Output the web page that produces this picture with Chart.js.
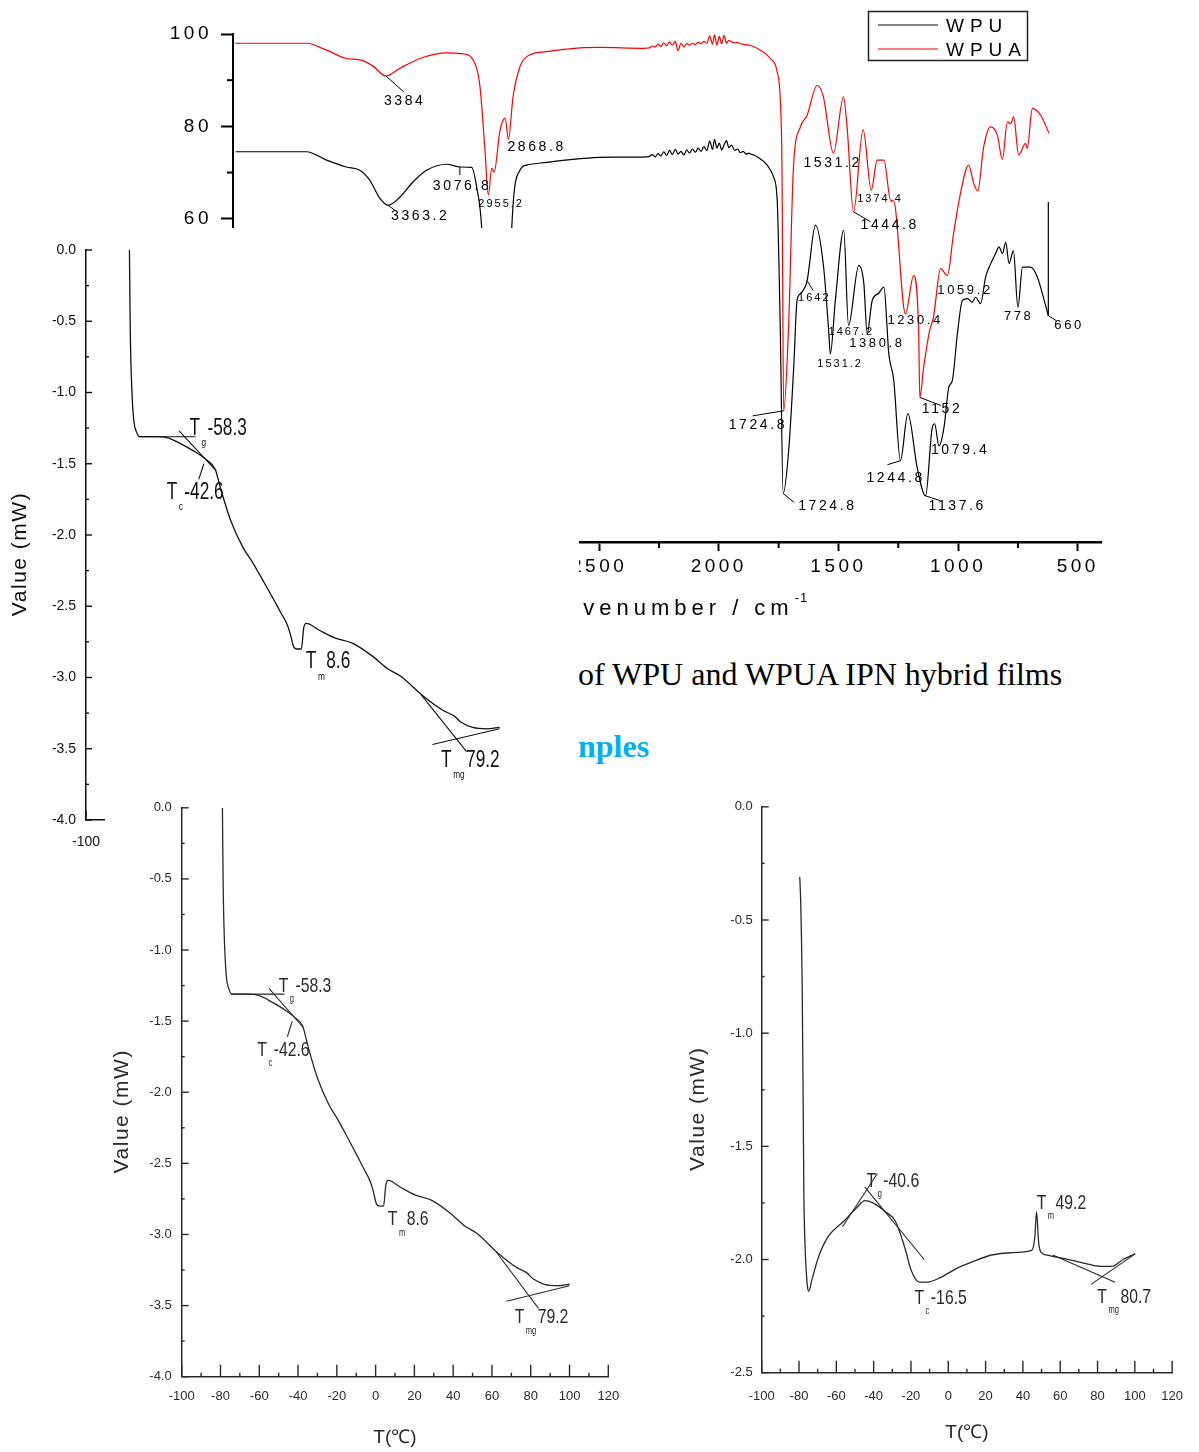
<!DOCTYPE html>
<html>
<head>
<meta charset="utf-8">
<script src="https://cdn.jsdelivr.net/npm/chart.js@4.4.1/dist/chart.umd.min.js"></script>
<style>
  html, body { margin: 0; padding: 0; background: #fff; }
  body { width: 1199px; height: 1452px; position: relative; overflow: hidden; }
  .box { position: absolute; background: #fff; }
  .box canvas { display: block; }
  .soft { filter: blur(0.35px); }
  #line1 { position: absolute; left: 578px; top: 658px; font: 32px/1 "Liberation Serif", "Times New Roman", serif; color: #000; white-space: nowrap; }
  #line2 { position: absolute; left: 578px; top: 730px; font: bold 32px/1 "Liberation Serif", "Times New Roman", serif; color: #00b0f0; white-space: nowrap; }
</style>
</head>
<body>
<div id="line1">of WPU and WPUA IPN hybrid films</div>
<div id="line2">nples</div>

<div class="box" style="left:150px;top:0;width:970px;height:630px;z-index:1"><canvas id="ftir" width="970" height="630"></canvas></div>
<div class="box" style="left:0;top:228px;width:579px;height:622px;z-index:2"><canvas id="dscA" width="579" height="622"></canvas></div>
<div class="box" style="left:105px;top:790px;width:575px;height:662px;z-index:3"><canvas id="dscB" class="soft" width="575" height="662"></canvas></div>
<div class="box" style="left:680px;top:790px;width:519px;height:662px;z-index:3"><canvas id="dscC" class="soft" width="519" height="662"></canvas></div>

<script>
// ---- FTIR spectra: wavenumber (cm-1) and transmittance (%) ----
const ftirWaveTicks = [4000, 3500, 3000, 2500, 2000, 1500, 1000, 500];

const wpuWave = [4019, 3723, 3639, 3556, 3500, 3458, 3416, 3382, 3332, 3277, 3221, 3137, 3082, 3033, 3012, 2991,
  2975, 2958, 2935, 2905, 2885, 2870, 2865, 2831, 2803, 2719, 2579, 2496, 2300,
  2290, 2278, 2266, 2254, 2242, 2230, 2218, 2206, 2194, 2182, 2170, 2158, 2146, 2134, 2122, 2110, 2098, 2086, 2074,
  2062, 2050, 2038, 2026, 2018, 2008, 1998, 1988, 1978, 1968, 1958, 1946, 1934, 1922, 1910, 1898, 1886, 1874, 1862,
  1850, 1840, 1798, 1771, 1756, 1743, 1731, 1708, 1687, 1673, 1659, 1631, 1596, 1562, 1541, 1534, 1513, 1478, 1458,
  1415, 1394, 1380, 1359, 1333, 1310, 1296, 1291, 1269, 1241, 1210, 1171, 1136, 1108, 1098, 1080, 1059, 1039, 1024,
  1003, 982, 961, 941, 927, 906, 885, 867, 843, 829, 815, 801, 787, 769, 750, 731, 711, 697, 669, 648, 623];
const wpuTrans = [74.5, 74.5, 72.7, 71.2, 70.5, 68.3, 64.4, 62.9, 64.7, 68.0, 70.5, 71.8, 71.2, 71.1, 66.9, 58.2,
  38, 25, 36, 44, 40, 48, 58.2, 70.5, 71.6, 72.2, 73.0, 73.3, 73.4,
  73.5, 73.9, 73.4, 74.1, 73.6, 74.5, 73.7, 74.8, 73.9, 75.0, 74.0, 74.6, 73.8, 74.9, 74.2, 75.1, 74.4, 75.3, 74.6,
  75.6, 74.8, 76.8, 75.0, 77.2, 75.3, 76.4, 74.9, 76.0, 76.9, 75.4, 75.9, 74.8, 75.1, 74.3, 74.6, 74.0, 74.2, 73.9,
  73.7, 73.4, 71.6, 69.0, 64, 35.8, 0.5, 9.8, 27.8, 42.3, 43.8, 46.6, 58.6, 49.5, 35.8, 30.7, 42.3, 57.5, 36.9,
  49.9, 46, 35.1, 42.3, 43.8, 45.2, 35.8, 31.5, 25.0, 7.6, 17.8, 6.1, 0.0, 14.8, 15.6, 10.8, 14.8, 23.5, 25.0,
  35.1, 42.3, 42.7, 41.9, 43.0, 41.6, 47.4, 49.9, 52.5, 53.9, 52.5, 54.9, 50.3, 53.1, 40.8, 49.5, 49.5, 49.5, 47.4, 43.8, 39.0];
// closing vertical stroke of the WPU trace at 623 cm-1
const wpuEndWave = [623, 623];
const wpuEndTrans = [39.0, 63.6];

const wpuaWave = [4023, 3723, 3639, 3556, 3500, 3446, 3391, 3332, 3236, 3137, 3069, 3027, 2998, 2977, 2963, 2949,
  2939, 2914, 2893, 2879, 2860, 2831, 2803, 2719, 2579, 2496, 2316,
  2290, 2278, 2266, 2254, 2242, 2230, 2218, 2206, 2194, 2182, 2170, 2158, 2146, 2134, 2122, 2110, 2098, 2086, 2074,
  2062, 2050, 2038, 2026, 2018, 2008, 1998, 1988, 1978, 1968, 1958, 1946, 1934, 1922, 1910, 1890, 1868,
  1826, 1785, 1756, 1743, 1736, 1729,
  1709, 1688, 1659, 1631, 1589, 1563, 1521, 1479, 1464, 1437, 1397, 1363, 1338, 1310, 1282, 1270, 1220, 1186, 1165,
  1160, 1144, 1119, 1103, 1073, 1045, 1019, 990, 956, 935, 918, 893, 864, 836, 815, 794, 780, 768, 747, 718, 711,
  690, 655, 620];
const wpuaTrans = [98.0, 98.0, 96.5, 94.7, 94.4, 93.1, 90.9, 92.6, 94.9, 95.9, 95.7, 94.4, 88.6, 74.8, 65.1, 70.9,
  70.1, 79.2, 81.8, 77.2, 86.3, 92.9, 95.1, 96.2, 97.0, 97.1, 96.9,
  97.0, 97.4, 97.2, 97.8, 97.3, 98.1, 97.5, 98.3, 97.6, 98.4, 96.4, 98.0, 97.2, 97.9, 97.6, 98.0, 97.7, 98.2, 97.9,
  98.4, 98.0, 99.6, 97.8, 99.8, 97.6, 99.5, 97.9, 99.7, 98.0, 98.6, 98.3, 98.1, 98.2, 97.9, 97.7, 97.5,
  96.5, 94.7, 91.8, 85.7, 71.2, 18.4,
  35.8, 71.2, 79.9, 82.4, 88.9, 86.4, 74.2, 86.4, 79.9, 61.5, 79.3, 66.2, 72.7, 72.7, 64, 64, 39.4, 47.7, 35.8,
  21.3, 27.8, 35.8, 38.7, 49.2, 47.7, 56.8, 65.5, 71.6, 67.7, 66, 75.6, 79.9, 78.1, 72.8, 81, 80.6, 82.1, 73.8, 76.3, 75.2,
  83.9, 82.4, 78.5];

// peak labels: text, wavenumber, transmittance of the marked point
const ftirPeakText = ['3384', '2868.8', '3076.8', '3363.2', '2955.2', '1531.2', '1374.4', '1444.8', '1642', '1059.2',
  '1467.2', '1230.4', '778', '660', '1380.8', '1531.2', '1724.8', '1152', '1079.4', '1244.8', '1724.8', '1137.6'];
const ftirPeakWave = [3391, 2879, 3082, 3382, 2963, 1521, 1363, 1437, 1631, 1045, 1458, 1220, 750, 623, 1380, 1534,
  1729, 1160, 1080, 1241, 1731, 1136];
const ftirPeakTrans = [90.9, 77.2, 71.2, 62.9, 65.1, 74.2, 66.2, 61.5, 46.6, 47.7, 36.9, 39.4, 40.8, 39.0, 35.1, 30.7,
  18.4, 21.3, 10.8, 7.6, 0.5, 0.0];
// label offset (dx, dy), leader end (lx, ly), font size — px
const ftirPeakStyle = [[-2, 29, 18, 16, 14], [-1, 12, 0, 0, 14], [-27, 23, 0, 8, 14], [3, 15, 7, 5, 14],
  [-10, 12, 0, 0, 11], [-30, 14, 0, 0, 14], [-14, 12, 0, 0, 11], [7, 17, 17, 10, 14], [-9, 20, 6, 10, 11],
  [-10, 18, 0, 0, 13], [-20, 10, 0, 0, 11], [-18, 10, 0, 0, 13], [-14, 12.5, 0, 0, 13], [6, 13, 8, 5, 13],
  [-18, 13.5, 0, 0, 13], [-13, 13, 0, 0, 11], [-55, 18, -31, 5, 14], [2, 16, 21, 8, 14], [-8, 8, 0, 0, 14],
  [-34, 21, -13, 4, 14], [15, 16, 11, 9, 14], [3, 14, 15, 5, 14]];

// ---- DSC curves: temperature (°C) and heat flow (mW) ----
const dscWpuTemp = [-79.0, -78.6, -78.0, -77.0, -75.5, -74.0, -66, -60, -55.5, -48, -42, -37.5, -35, -30, -24, -20,
  -14, -9, -6, -3, -1.3, 0.3, 2, 4.1, 5.3, 6.5, 13, 20, 29, 38.5, 46, 52, 63, 72.5, 78, 81, 87, 94, 100];
const dscWpuValue = [0.0, -0.56, -0.92, -1.18, -1.28, -1.31, -1.31, -1.32, -1.35, -1.41, -1.47, -1.54, -1.67, -1.90,
  -2.09, -2.18, -2.33, -2.46, -2.54, -2.62, -2.69, -2.78, -2.80, -2.80, -2.65, -2.62, -2.67, -2.72, -2.76, -2.85,
  -2.94, -2.99, -3.13, -3.23, -3.27, -3.31, -3.35, -3.36, -3.35];
const dscWpuaTemp = [-79.6, -79.1, -78.3, -77.7, -77.4, -76.8, -75.6, -74.8, -73.1, -69.6, -64.5, -55.9, -49.0, -44.7,
  -40.4, -33.5, -28.4, -23.2, -19.8, -15.5, -11.2, -4.3, 4.3, 12.9, 23.2, 33.5, 44.7, 46.4, 47.3, 48.5, 49.9, 52.4,
  64.5, 74.8, 81.6, 87.7, 93.7, 100.2];
const dscWpuaValue = [-0.31, -0.42, -0.79, -1.39, -1.71, -1.93, -2.11, -2.14, -2.09, -1.99, -1.90, -1.83, -1.77, -1.74,
  -1.75, -1.79, -1.83, -1.95, -2.05, -2.10, -2.10, -2.08, -2.04, -2.01, -1.98, -1.97, -1.96, -1.90, -1.79, -1.93,
  -1.97, -1.98, -2.00, -2.02, -2.03, -2.03, -2.00, -1.975];

// tangent construction lines [t1, v1, t2, v2]
const wpuTangents = [[-74.5, -1.31, -47, -1.31], [-55, -1.27, -37, -1.55], [-45.5, -1.61, -43, -1.50],
  [67.5, -3.47, 100, -3.36], [62, -3.12, 84, -3.52]];
const wpuaTangents = [[-56.7, -1.855, -38, -1.62], [-44.7, -1.68, -12.9, -2.00], [56, -1.98, 89.4, -2.10],
  [76.5, -2.11, 100.2, -1.975]];

// transition labels: subscript, value text, anchor (°C, mW)
const wpuMarkSub = ['g', 'c', 'm', 'mg'];
const wpuMarkText = ['-58.3', '-42.6', '8.6', '79.2'];
const wpuMarkTemp = [-50, -61, 6.3, 71.7];
const wpuMarkValue = [-1.295, -1.745, -2.935, -3.625];
const wpuaMarkSub = ['g', 'm', 'c', 'mg'];
const wpuaMarkText = ['-40.6', '49.2', '-16.5', '80.7'];
const wpuaMarkTemp = [-43.8, 47.4, -18.1, 79.9];
const wpuaMarkValue = [-1.678, -1.775, -2.195, -2.19];

const SANS = '"Liberation Sans", Arial, sans-serif';

function seg(ctx, x1, y1, x2, y2) {
  ctx.beginPath(); ctx.moveTo(x1, y1); ctx.lineTo(x2, y2); ctx.stroke();
}

// ---------- FTIR ----------
const ftirDecor = {
  id: 'ftirDecor',
  beforeDraw(chart) { chart.ctx.letterSpacing = '3.5px'; },
  afterDraw(chart) {
    const {ctx, chartArea: a, scales: {x, y}} = chart;
    ctx.save();
    ctx.strokeStyle = '#000';
    ctx.lineWidth = 2;
    for (let w = 750; w < x.max; w += 500) {
      const px = x.getPixelForValue(w);
      seg(ctx, px, a.bottom, px, a.bottom + 6);
    }
    for (let v = 10; v < 100; v += 20) {
      const py = y.getPixelForValue(v);
      seg(ctx, a.left - 6, py, a.left, py);
    }

    ctx.lineWidth = 1;
    ctx.fillStyle = '#000';
    ctx.textAlign = 'left';
    ctx.textBaseline = 'alphabetic';
    ftirPeakText.forEach((t, i) => {
      const px = x.getPixelForValue(ftirPeakWave[i]);
      const py = y.getPixelForValue(ftirPeakTrans[i]);
      const [dx, dy, lx, ly, size] = ftirPeakStyle[i];
      if (lx || ly) seg(ctx, px, py, px + lx, py + ly);
      ctx.font = size + 'px ' + SANS;
      ctx.letterSpacing = (size > 12 ? 2.6 : 2) + 'px';
      ctx.fillText(t, px + dx, py + dy);
    });

    // legend box
    ctx.letterSpacing = '0px';
    ctx.lineWidth = 1.5;
    ctx.strokeStyle = '#222';
    ctx.strokeRect(718.5, 11.5, 159, 49);
    chart.data.datasets.filter(d => d.label).forEach((d, i) => {
      const ly = 25 + i * 24;
      ctx.strokeStyle = d.borderColor;
      ctx.lineWidth = 1;
      seg(ctx, 728, ly, 788, ly);
      ctx.font = '19px ' + SANS;
      ctx.letterSpacing = '6px';
      ctx.fillStyle = '#000';
      ctx.fillText(d.label, 796, ly + 7);
    });

    // axis title with superscript
    const title = 'Wavenumber / cm';
    const cx = (a.left + a.right) / 2;
    ctx.font = '22px ' + SANS;
    ctx.letterSpacing = '5px';
    ctx.textAlign = 'center';
    ctx.fillText(title, cx, 615);
    const half = ctx.measureText(title).width / 2;
    ctx.font = '13px ' + SANS;
    ctx.letterSpacing = '1px';
    ctx.textAlign = 'left';
    ctx.fillText('-1', cx + half + 1, 602);
    ctx.restore();
  }
};

const ftirTick = {family: SANS, size: 19};
new Chart(document.getElementById('ftir'), {
  type: 'line',
  data: {
    datasets: [
      {label: 'WPU', data: wpuWave.map((w, i) => ({x: w, y: wpuTrans[i]})),
       borderColor: '#000', borderWidth: 1.2, pointRadius: 0, cubicInterpolationMode: 'monotone'},
      {label: 'WPUA', data: wpuaWave.map((w, i) => ({x: w, y: wpuaTrans[i]})),
       borderColor: '#ff0000', borderWidth: 1.2, pointRadius: 0, cubicInterpolationMode: 'monotone'},
      {data: wpuEndWave.map((w, i) => ({x: w, y: wpuEndTrans[i]})),
       borderColor: '#000', borderWidth: 1.2, pointRadius: 0, tension: 0}
    ]
  },
  options: {
    responsive: false, animation: false, devicePixelRatio: 1,
    layout: {padding: {left: 0, top: 34, right: 18.3, bottom: 0}},
    plugins: {legend: {display: false}, tooltip: {enabled: false}},
    scales: {
      x: {
        type: 'linear', reverse: true, min: 400, max: 4030,
        afterBuildTicks: s => { s.ticks = ftirWaveTicks.map(v => ({value: v})); },
        afterFit: s => { s.height = 88; },
        border: {display: true, color: '#000', width: 2.5},
        grid: {display: true, drawOnChartArea: false, drawTicks: true, tickLength: 9, tickWidth: 2, tickColor: '#000'},
        ticks: {autoSkip: false, maxRotation: 0, padding: 4, color: '#000', font: ftirTick,
                callback: v => String(v)}
      },
      y: {
        type: 'linear', min: -10, max: 100,
        afterFit: s => { s.width = 83; },
        border: {display: true, color: '#000', width: 2},
        grid: {display: true, drawOnChartArea: false, drawTicks: true, tickLength: 12, tickWidth: 2, tickColor: '#000'},
        ticks: {stepSize: 20, includeBounds: false, autoSkip: false, padding: 9, color: '#000', font: ftirTick}
      }
    }
  },
  plugins: [ftirDecor]
});

// ---------- DSC ----------
function drawDsc(id, temps, values, tangents, markSub, markText, markTemp, markValue, o) {
  const ink = o.ink;
  const datasets = [{
    data: temps.map((t, i) => ({x: t, y: values[i]})),
    borderColor: ink, borderWidth: 1.3, pointRadius: 0, cubicInterpolationMode: 'monotone'
  }];
  tangents.forEach(s => datasets.push({
    data: [{x: s[0], y: s[1]}, {x: s[2], y: s[3]}],
    borderColor: ink, borderWidth: 1.1, pointRadius: 0, tension: 0
  }));
  const tickFont = {family: SANS, size: o.tickSize};

  const decor = {
    id: 'dscDecor',
    afterDraw(chart) {
      const {ctx, chartArea: a, scales: {x, y}} = chart;
      ctx.save();
      ctx.strokeStyle = ink;
      ctx.lineWidth = 1.4;
      for (let t = -100; t <= 120; t += 10) {
        const px = x.getPixelForValue(t);
        const len = t % 20 === 0 ? o.xMajor : o.xMinor;
        seg(ctx, px, a.bottom, px, a.bottom - len);
      }
      for (let v = o.ymin; v <= 0.001; v += 0.25) {
        const py = y.getPixelForValue(v);
        const len = Math.abs(v * 2 - Math.round(v * 2)) < 1e-6 ? o.yMajor : o.yMinor;
        seg(ctx, a.left, py, a.left + len, py);
      }

      // y axis title
      ctx.save();
      ctx.translate(o.ytX, (a.top + a.bottom) / 2 + 19);
      ctx.rotate(-Math.PI / 2);
      ctx.font = o.ytSize + 'px ' + SANS;
      ctx.letterSpacing = '1.5px';
      ctx.textAlign = 'center';
      ctx.textBaseline = 'middle';
      ctx.fillStyle = ink;
      ctx.fillText('Value (mW)', 0, 0);
      ctx.restore();

      // transition labels
      ctx.fillStyle = ink;
      ctx.textBaseline = 'alphabetic';
      ctx.textAlign = 'left';
      markSub.forEach((sub, i) => {
        const px = x.getPixelForValue(markTemp[i]);
        const py = y.getPixelForValue(markValue[i]);
        ctx.save();
        ctx.translate(px, py);
        ctx.scale(0.75, 1);
        ctx.font = o.markSize + 'px ' + SANS;
        ctx.fillText('T', 0, 0);
        let w = ctx.measureText('T').width + 2;
        ctx.font = Math.round(o.markSize * 0.48) + 'px ' + SANS;
        ctx.fillText(sub, w, o.markSize * 0.5);
        w += ctx.measureText(sub).width + 2;
        ctx.font = o.markSize + 'px ' + SANS;
        ctx.fillText(markText[i], w, 0);
        ctx.restore();
      });
      ctx.restore();
    }
  };

  new Chart(document.getElementById(id), {
    type: 'line',
    data: {datasets},
    options: {
      responsive: false, animation: false, devicePixelRatio: 1,
      layout: {padding: {left: 0, top: o.top, right: o.right, bottom: 0}},
      plugins: {legend: {display: false}, tooltip: {enabled: false}},
      scales: {
        x: {
          type: 'linear', min: -100, max: 120,
          afterFit: s => { s.height = o.xh; },
          border: {display: true, color: ink, width: 1.5},
          grid: {display: false, drawTicks: false},
          ticks: {stepSize: 20, autoSkip: false, maxRotation: 0, padding: o.xPad, color: ink, font: tickFont},
          title: {display: true, text: 'T(℃)', color: ink, font: {family: SANS, size: 19},
                  padding: {top: 0, bottom: o.xtPad}}
        },
        y: {
          type: 'linear', min: o.ymin, max: 0,
          afterFit: s => { s.width = o.yw; },
          border: {display: true, color: ink, width: 1.5},
          grid: {display: false, drawTicks: false},
          ticks: {stepSize: 0.5, autoSkip: false, padding: o.yPad, color: ink, font: tickFont,
                  callback: v => v.toFixed(1)}
        }
      }
    },
    plugins: [decor]
  });
}

drawDsc('dscA', dscWpuTemp, dscWpuValue, wpuTangents, wpuMarkSub, wpuMarkText, wpuMarkTemp, wpuMarkValue, {
  ink: '#111', top: 22, right: 38, xh: 30, yw: 86, ymin: -4, tickSize: 14,
  xPad: 14, yPad: 10, xtPad: 2, ytX: 20, ytSize: 21, markSize: 23,
  xMajor: 10, xMinor: 4, yMajor: 6, yMinor: 3
});
drawDsc('dscB', dscWpuTemp, dscWpuValue, wpuTangents, wpuMarkSub, wpuMarkText, wpuMarkTemp, wpuMarkValue, {
  ink: '#2a2a2a', top: 15.7, right: 71.7, xh: 75.3, yw: 76.7, ymin: -4, tickSize: 13,
  xPad: 12, yPad: 10, xtPad: 3, ytX: 17, ytSize: 21, markSize: 21,
  xMajor: 12, xMinor: 4, yMajor: 7, yMinor: 3
});
drawDsc('dscC', dscWpuaTemp, dscWpuaValue, wpuaTangents, wpuaMarkSub, wpuaMarkText, wpuaMarkTemp, wpuaMarkValue, {
  ink: '#2a2a2a', top: 11.7, right: 10.7, xh: 79.3, yw: 81.7, ymin: -2.5, tickSize: 13,
  xPad: 16, yPad: 9, xtPad: 8, ytX: 18, ytSize: 21, markSize: 21,
  xMajor: 12, xMinor: 4, yMajor: 7, yMinor: 3
});
</script>
</body>
</html>
